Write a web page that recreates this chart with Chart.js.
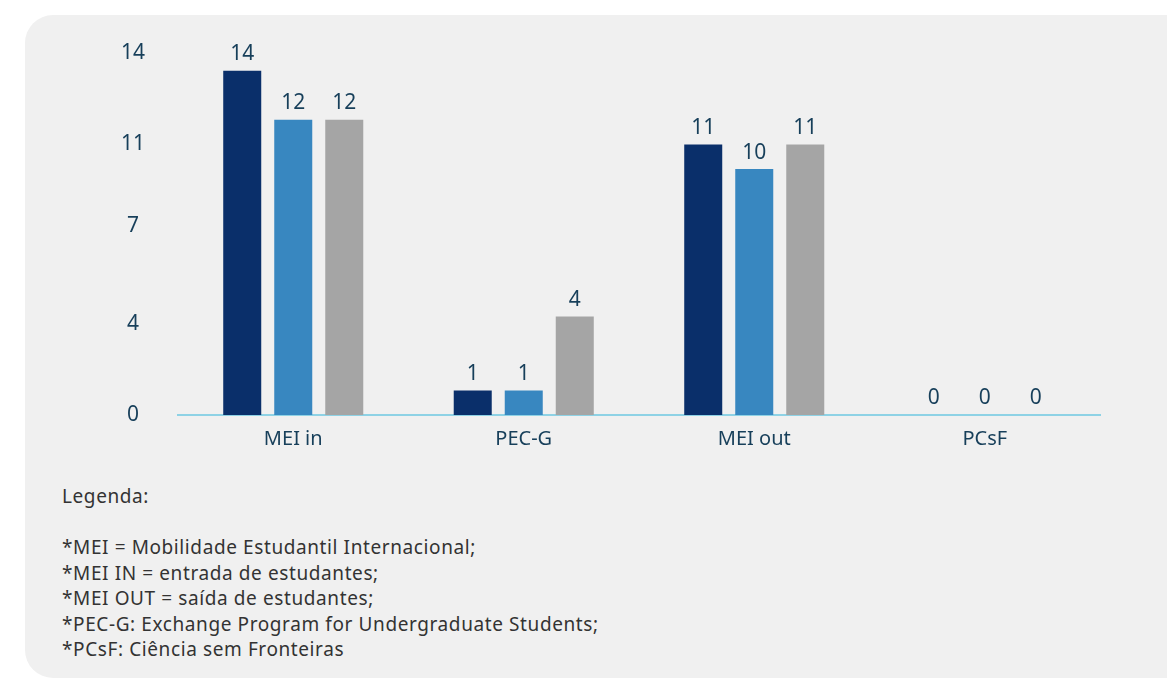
<!DOCTYPE html>
<html>
<head>
<meta charset="utf-8">
<script src="https://cdn.jsdelivr.net/npm/chart.js@4"></script>
<style>
  html, body { margin: 0; padding: 0; background: #fff; width: 1167px; height: 680px; overflow: hidden; }
  .panel {
    position: absolute; left: 25px; top: 15px; width: 1200px; height: 663px;
    background: #f0f0f0; border-radius: 28px 0 0 28px;
  }
  #chartWrap { position: absolute; left: 0; top: 0; width: 1167px; height: 462px; }
  .notes {
    position: absolute; left: 62px; top: 484px;
    font-family: "Noto Sans", "Open Sans", sans-serif; font-size: 19px; color: #333;
    line-height: 25.5px; letter-spacing: 0.6px;
  }
</style>
</head>
<body>
<div class="panel"></div>
<div id="chartWrap"><canvas id="chart"></canvas></div>
<div class="notes">
  Legenda:<br><br>
  *MEI = Mobilidade Estudantil Internacional;<br>
  *MEI IN = entrada de estudantes;<br>
  *MEI OUT = saída de estudantes;<br>
  *PEC-G: Exchange Program for Undergraduate Students;<br>
  *PCsF: Ciência sem Fronteiras
</div>
<script>
// Data
const categories = ['MEI in', 'PEC-G', 'MEI out', 'PCsF'];
const seriesA = [14, 1, 11, 0];
const seriesB = [12, 1, 10, 0];
const seriesC = [12, 4, 11, 0];
const yTickValues = [0, 3.7, 7.7, 11.0, 14.7];
const yTickLabels = ['0', '4', '7', '11', '14'];

const textColor = '#173f5a';
const fontFamily = '"Noto Sans", "Open Sans", sans-serif';

// Draw value above each bar
const valueLabels = {
    id: 'valueLabels',
    afterDatasetsDraw(chart) {
        const ctx = chart.ctx;
        ctx.save();
        ctx.fillStyle = textColor;
        ctx.font = '21px ' + fontFamily;
        ctx.textAlign = 'center';
        ctx.textBaseline = 'bottom';
        chart.data.datasets.forEach((ds, i) => {
            chart.getDatasetMeta(i).data.forEach((bar, j) => {
                ctx.fillText(String(ds.data[j]), bar.x, bar.y - 6);
            });
        });
        ctx.restore();
    }
};

const ctx = document.getElementById('chart').getContext('2d');
new Chart(ctx, {
    type: 'bar',
    data: {
        labels: categories,
        datasets: [
            { label: 'A', data: seriesA, backgroundColor: '#0a2f6a' },
            { label: 'B', data: seriesB, backgroundColor: '#3887c0' },
            { label: 'C', data: seriesC, backgroundColor: '#a5a5a5' }
        ]
    },
    options: {
        responsive: true,
        maintainAspectRatio: false,
        animation: false,
        layout: { padding: { top: 51, right: 67, left: 0, bottom: 0 } },
        datasets: {
            bar: { categoryPercentage: 0.664, barPercentage: 0.745 }
        },
        scales: {
            x: {
                grid: { display: false },
                border: { display: true, color: '#8ed2e5', width: 2 },
                ticks: { color: textColor, font: { family: fontFamily, size: 20 }, padding: 4 },
                afterFit(scale) { scale.height = 47; }
            },
            y: {
                min: 0,
                max: 14.8,
                grid: { display: false },
                border: { display: false },
                afterBuildTicks(scale) {
                    scale.ticks = yTickValues.map(v => ({ value: v }));
                },
                ticks: {
                    color: textColor,
                    font: { family: fontFamily, size: 21 },
                    padding: 25,
                    crossAlign: 'center',
                    callback: (v, i) => yTickLabels[i]
                },
                afterFit(scale) { scale.width = 178; }
            }
        },
        plugins: {
            legend: { display: false },
            tooltip: { enabled: false }
        }
    },
    plugins: [valueLabels]
});
</script>
</body>
</html>
